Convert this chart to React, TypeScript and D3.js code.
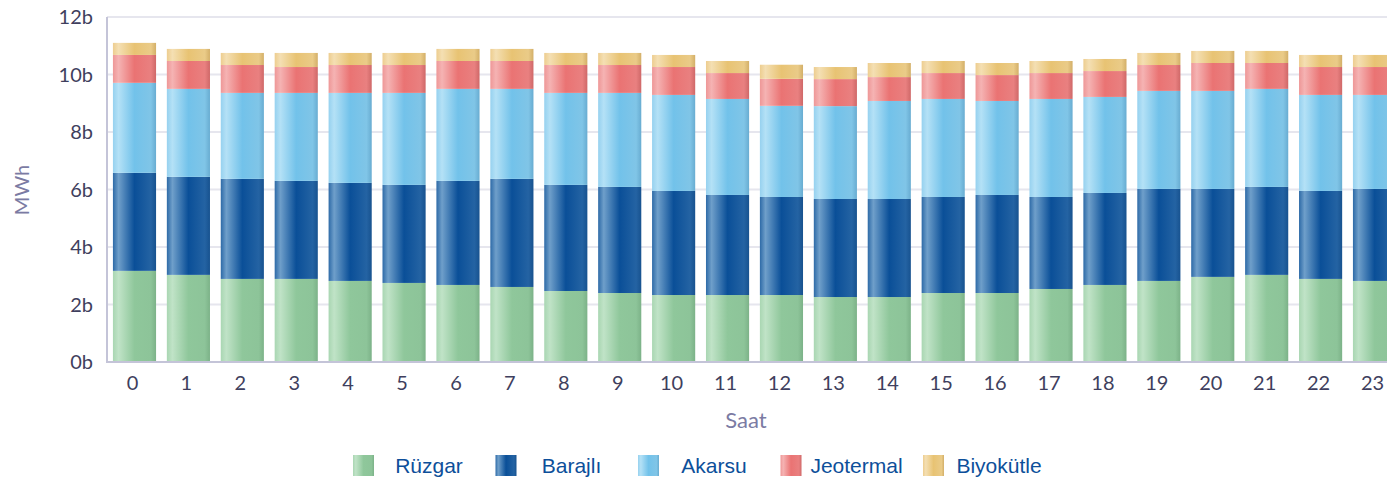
import React, { useEffect, useRef } from "react";
import * as d3 from "d3";

// hours 0..23, values in billions of MWh
const hours = ["0", "1", "2", "3", "4", "5", "6", "7", "8", "9", "10", "11", "12", "13", "14", "15", "16", "17", "18", "19", "20", "21", "22", "23"];
const seriesNames = ["Rüzgar", "Barajlı", "Akarsu", "Jeotermal", "Biyokütle"];

const ruzgar = [3.17, 3.03, 2.89, 2.89, 2.82, 2.75, 2.68, 2.61, 2.47, 2.40, 2.33, 2.33, 2.33, 2.26, 2.26, 2.40, 2.40, 2.54, 2.68, 2.82, 2.96, 3.03, 2.89, 2.82];
const barajli = [3.41, 3.41, 3.48, 3.41, 3.41, 3.41, 3.62, 3.76, 3.69, 3.69, 3.62, 3.48, 3.41, 3.41, 3.41, 3.34, 3.41, 3.20, 3.20, 3.20, 3.06, 3.06, 3.06, 3.20];
const akarsu = [3.13, 3.06, 2.99, 3.06, 3.13, 3.20, 3.20, 3.13, 3.20, 3.27, 3.34, 3.34, 3.17, 3.23, 3.41, 3.41, 3.27, 3.41, 3.34, 3.41, 3.41, 3.41, 3.34, 3.27];
const jeotermal = [0.97, 0.97, 0.97, 0.90, 0.97, 0.97, 0.97, 0.97, 0.97, 0.97, 0.97, 0.90, 0.94, 0.94, 0.83, 0.90, 0.90, 0.90, 0.90, 0.90, 0.97, 0.90, 0.97, 0.97];
const biyokutle = [0.42, 0.42, 0.42, 0.49, 0.42, 0.42, 0.42, 0.42, 0.42, 0.42, 0.42, 0.42, 0.49, 0.42, 0.49, 0.42, 0.42, 0.42, 0.42, 0.42, 0.42, 0.42, 0.42, 0.42];
const yTicks = [0, 2, 4, 6, 8, 10, 12];

// gradient stops per series: [edge, highlight, base, right band, right edge]
const gradients = [
  ["#a9d6b2", "#c0e3c7", "#8fc79b", "#8dc499", "#7cb288"],
  ["#2d6aa7", "#6f9fca", "#0a4f98", "#2463a3", "#17528f"],
  ["#96d1ef", "#b4e1f6", "#72c2ea", "#80c5e7", "#68acd1"],
  ["#ee9797", "#f5b3b3", "#ea7373", "#e98080", "#cf6868"],
  ["#edcd8f", "#f4dfb3", "#e8c373", "#eacb88", "#d3af68"],
];

const W = 1387;
const H = 480;
const AXIS_COLOR = "#c4c4d8";
const GRID_COLOR = "#e6e6ee";
const LABEL_COLOR = "#3f3f5e";
const TITLE_COLOR = "#7b7ba3";
const LEGEND_COLOR = "#0d4f9a";

const App = () => {
  const ref = useRef<SVGSVGElement>(null);

  useEffect(() => {
    const svg = d3.select(ref.current);
    svg.selectAll("*").remove();

    const rows = hours.map((h, i) => ({
      hour: h,
      "Rüzgar": ruzgar[i],
      "Barajlı": barajli[i],
      "Akarsu": akarsu[i],
      "Jeotermal": jeotermal[i],
      "Biyokütle": biyokutle[i],
    }));
    const stacked = d3.stack<any>().keys(seriesNames)(rows);

    const x = d3.scaleBand()
      .domain(hours)
      .range([107, 1402])
      .paddingInner(0.2)
      .paddingOuter(0.11);
    const y = d3.scaleLinear().domain([0, 12]).range([362, 17]);

    // gradients
    const defs = svg.append("defs");
    gradients.forEach((g, i) => {
      const lg = defs.append("linearGradient")
        .attr("id", `grad_${i}`)
        .attr("x1", "0").attr("x2", "1").attr("y1", "0").attr("y2", "0");
      [0, 0.13, 0.5, 0.88, 1].forEach((o, k) => {
        lg.append("stop").attr("offset", o).attr("stop-color", g[k]);
      });
    });

    // grid
    svg.append("g")
      .selectAll("line")
      .data(yTicks.filter(t => t > 0))
      .join("line")
      .attr("x1", 107).attr("x2", W)
      .attr("y1", d => y(d)).attr("y2", d => y(d))
      .attr("stroke", GRID_COLOR)
      .attr("stroke-width", 2);

    // bars
    svg.append("g")
      .selectAll("g")
      .data(stacked)
      .join("g")
      .attr("fill", (_, i) => `url(#grad_${i})`)
      .selectAll("rect")
      .data(d => d)
      .join("rect")
      .attr("x", (d: any) => x(d.data.hour)!)
      .attr("y", d => y(d[1]))
      .attr("width", x.bandwidth())
      .attr("height", d => y(d[0]) - y(d[1]));

    // axis lines
    svg.append("line")
      .attr("x1", 107).attr("x2", 107).attr("y1", 17).attr("y2", 362)
      .attr("stroke", AXIS_COLOR).attr("stroke-width", 2);
    svg.append("line")
      .attr("x1", 106).attr("x2", W).attr("y1", 362).attr("y2", 362)
      .attr("stroke", AXIS_COLOR).attr("stroke-width", 2);

    // y tick labels
    svg.append("g")
      .selectAll("text")
      .data(yTicks)
      .join("text")
      .attr("x", 93)
      .attr("y", d => y(d))
      .attr("dy", "0.35em")
      .attr("text-anchor", "end")
      .attr("fill", LABEL_COLOR)
      .style("font-family", "Lato, sans-serif")
      .style("font-size", "20px")
      .text(d => `${d}b`);

    // x tick labels
    svg.append("g")
      .selectAll("text")
      .data(hours)
      .join("text")
      .attr("x", d => x(d)! + x.bandwidth() / 2 - 2)
      .attr("y", 390)
      .attr("text-anchor", "middle")
      .attr("fill", LABEL_COLOR)
      .style("font-family", "Lato, sans-serif")
      .style("font-size", "20px")
      .text(d => d);

    // axis titles
    svg.append("text")
      .attr("transform", "translate(29,190) rotate(-90)")
      .attr("text-anchor", "middle")
      .attr("fill", TITLE_COLOR)
      .style("font-family", "Lato, sans-serif")
      .style("font-size", "20px")
      .text("MWh");
    svg.append("text")
      .attr("x", 746)
      .attr("y", 428)
      .attr("text-anchor", "middle")
      .attr("fill", TITLE_COLOR)
      .style("font-family", "Lato, sans-serif")
      .style("font-size", "22px")
      .text("Saat");

    // legend
    const lx = d3.scalePoint().domain(seriesNames).range([353, 923]);
    const legend = svg.append("g")
      .selectAll("g")
      .data(seriesNames)
      .join("g")
      .attr("transform", d => `translate(${lx(d)},0)`);
    legend.append("rect")
      .attr("x", 0).attr("y", 455)
      .attr("width", 21).attr("height", 21)
      .attr("fill", (_, i) => `url(#grad_${i})`);
    legend.append("text")
      .attr("x", 76)
      .attr("y", 473)
      .attr("text-anchor", "middle")
      .attr("fill", LEGEND_COLOR)
      .style("font-family", "'Liberation Sans', Arial, sans-serif")
      .style("font-size", "21px")
      .text(d => d);
  }, []);

  return (
    <svg
      ref={ref}
      width={W}
      height={H}
      style={{ position: "absolute", left: 0, top: 0, background: "#fff" }}
    />
  );
};

export default App;
